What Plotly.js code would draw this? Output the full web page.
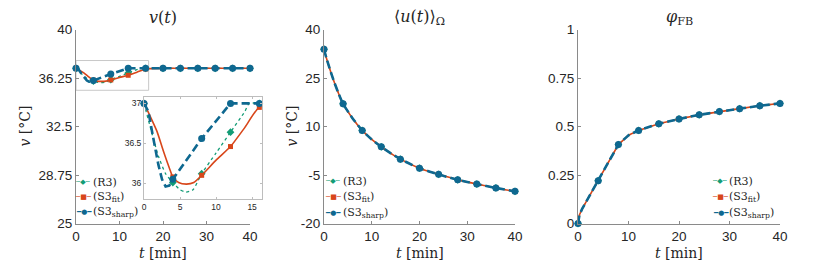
<!DOCTYPE html>
<html><head><meta charset="utf-8">
<script src="https://cdn.plot.ly/plotly-3.0.1.min.js"></script>
<style>html,body{margin:0;padding:0;background:#fff}#chart{width:821px;height:267px}</style>
</head><body><div id="chart"></div>
<script>
// ---------- data ----------
const tMarks = [0, 4, 8, 12, 16, 20, 24, 28, 32, 36, 40];
// v(t): markers
const vR3Marks    = [37, 36.01, 36.12, 36.64, 37.0, 37, 37, 37, 37, 37, 37];
const vFitMarks   = [37, 36.08, 36.10, 36.46, 36.95, 37, 37, 37, 37, 37, 37];
const vSharpMarks = [37, 36.05, 36.56, 37.0, 37.0, 37, 37, 37, 37, 37, 37];
// v(t): continuous curves
const tR3Curve = [0, 1, 2, 3, 4, 5, 5.8, 6.8, 8, 10, 12, 14, 14.6, 16, 20, 24, 28, 32, 36, 40];
const vR3Curve = [37, 36.66, 36.34, 36.12, 36.01, 35.92, 35.89, 35.92, 36.12, 36.38, 36.64, 36.9, 37.0, 37.0, 37, 37, 37, 37, 37, 37];
const tFitCurve = [0, 0.8, 1.8, 2.7, 3.6, 4, 4.8, 5.9, 6.9, 8, 10, 12, 14, 16, 20, 24, 28, 32, 36, 40];
const vFitCurve = [37, 36.85, 36.65, 36.40, 36.17, 36.08, 36.01, 35.99, 36.01, 36.10, 36.29, 36.46, 36.70, 36.95, 37, 37, 37, 37, 37, 37];
const tSharpCurve = [0, 0.6, 1.3, 2, 2.5, 3, 3.5, 4, 8, 12, 16, 20, 24, 28, 32, 36, 40];
const vSharpCurve = [37, 36.9, 36.56, 36.23, 36.05, 35.96, 35.97, 36.05, 36.56, 37.0, 37.0, 37, 37, 37, 37, 37, 37];
// <u(t)>: markers and curve
const uMarks = [33.9, 17.0, 8.8, 3.7, -0.1, -2.9, -4.8, -6.5, -7.8, -9.0, -10.06];
const tUCurve = [0, 0.5, 1, 2, 3, 4, 6, 8, 10, 12, 14, 16, 20, 24, 28, 32, 36, 40];
const uCurve  = [33.9, 31.2, 28.8, 24.3, 20.4, 17.0, 12.5, 8.8, 6.0, 3.7, 1.7, -0.1, -2.9, -4.8, -6.5, -7.8, -9.0, -10.06];
// phi_FB: markers and curve
const phiMarks = [0, 0.221, 0.407, 0.48, 0.514, 0.539, 0.56, 0.577, 0.592, 0.607, 0.619];
const tPhiCurve = [0, 0.3, 0.85, 2, 4, 6, 8, 10, 12, 16, 20, 24, 28, 32, 36, 40];
const phiCurve  = [0, 0.045, 0.077, 0.13, 0.221, 0.31, 0.407, 0.455, 0.48, 0.514, 0.539, 0.56, 0.577, 0.592, 0.607, 0.619];
// ticks & labels
const vTickVals = [25, 28.75, 32.5, 36.25, 40];
const uTickVals = [-20, -5, 10, 25, 40];
const uTickText = ['-20', '-5', '10', '25', '40'];
const phiTickVals = [0, 0.25, 0.5, 0.75, 1];
const insetTickVals = [36, 36.5, 37];
const seriesNames = ['(R3)', '(S3<sub>fit</sub>)', '(S3<sub>sharp</sub>)'];
const zoomBoxT = [0, 16.7];
const zoomBoxV = [35.3, 37.6];

// ---------- styles ----------
const W = 821, H = 267;
const px = x => x / W, py = y => 1 - y / H;
const cG = '#139c76', cR = '#d8461a', cB = '#0e6890';
const styles = [
  {color: cG, line: {color: cG, width: 1.3, dash: 'dot'}, marker: {symbol: 'diamond', size: 6, color: cG}},
  {color: cR, line: {color: cR, width: 1.6, dash: 'solid'}, marker: {symbol: 'square', size: 5, color: cR}},
  {color: cB, line: {color: cB, width: 2.6, dash: '8px,4px'}, marker: {symbol: 'circle', size: 7, color: cB}}
];

const traces = [];
function addSeries(xa, ya, tc, yc, tm, ym, s, tmax, shape) {
  let TM = tm, YM = ym;
  if (tmax !== undefined) { TM = tm.filter(t => t <= tmax); YM = ym.slice(0, TM.length); }
  traces.push({x: tc, y: yc, xaxis: xa, yaxis: ya, mode: 'lines', line: Object.assign({shape: shape || 'linear', smoothing: 0.6}, s.line), hoverinfo: 'skip', showlegend: false});
  traces.push({x: TM, y: YM, xaxis: xa, yaxis: ya, mode: 'markers', marker: s.marker, cliponaxis: false, showlegend: false});
}
addSeries('x', 'y', tR3Curve, vR3Curve, tMarks, vR3Marks, styles[0], undefined, 'spline');
addSeries('x', 'y', tFitCurve, vFitCurve, tMarks, vFitMarks, styles[1], undefined, 'spline');
addSeries('x', 'y', tSharpCurve, vSharpCurve, tMarks, vSharpMarks, styles[2], undefined, 'linear');
addSeries('x4', 'y4', tR3Curve, vR3Curve, tMarks, vR3Marks, styles[0], 16, 'spline');
addSeries('x4', 'y4', tFitCurve, vFitCurve, tMarks, vFitMarks, styles[1], 16, 'spline');
addSeries('x4', 'y4', tSharpCurve, vSharpCurve, tMarks, vSharpMarks, styles[2], 16, 'linear');
for (const s of styles) addSeries('x2', 'y2', tUCurve, uCurve, tMarks, uMarks, s, undefined, 'spline');
for (const s of styles) addSeries('x3', 'y3', tPhiCurve, phiCurve, tMarks, phiMarks, s, undefined, 'linear');

const axCol = '#8a8a8a';
const tickFont = {family: 'Liberation Sans, Arial, sans-serif', size: 13.5, color: '#262626'};
function xAx(d0, d1, anchor) {
  return {domain: [px(d0), px(d1)], anchor: anchor, range: [0, 40], tickvals: [0, 10, 20, 30, 40],
    showline: true, linecolor: axCol, linewidth: 1, ticks: 'inside', ticklen: 3, tickcolor: axCol,
    showgrid: false, zeroline: false, tickfont: tickFont, fixedrange: true};
}
function yAx(range, tv, tt, anchor) {
  const a = {domain: [py(223.5), py(29.5)], anchor: anchor, range: range, tickvals: tv,
    showline: true, linecolor: axCol, linewidth: 1, ticks: 'inside', ticklen: 3, tickcolor: axCol,
    showgrid: false, zeroline: false, tickfont: tickFont, fixedrange: true};
  if (tt) a.ticktext = tt;
  return a;
}
const insetCol = '#bdbdbd';
const insetFont = {family: 'Liberation Sans, Arial, sans-serif', size: 8.5, color: '#262626'};

const serif = 'DejaVu Serif';
const ann = [];
function txt(x, y, text, size, opts) {
  ann.push(Object.assign({xref: 'paper', yref: 'paper', x: px(x), y: py(y), text: text, showarrow: false,
    font: {family: serif, size: size, color: '#262626'}, xanchor: 'center', yanchor: 'middle'}, opts || {}));
}
txt(163, 17, '<i>v</i>(<i>t</i>)', 16);
txt(419.5, 17, '⟨<i>u</i>(<i>t</i>)⟩<sub>Ω</sub>', 16);
txt(679, 17, '<i>φ</i><sub>FB</sub>', 16);
txt(163, 253, '<i>t</i> [min]', 14);
txt(419.5, 253, '<i>t</i> [min]', 14);
txt(679, 253, '<i>t</i> [min]', 14);
txt(25, 126.5, '<i>v</i> [°C]', 14, {textangle: -90});
txt(292, 126.5, '<i>v</i> [°C]', 14, {textangle: -90});
const keyGlyphs = ['┄◆┄', '─■─', '━●━'];
const keyCols = [cG, cR, cB];
function legend(kx, tx, ys) {
  for (let i = 0; i < 3; i++) {
    ann.push({xref: 'paper', yref: 'paper', x: px(kx), y: py(ys[i]), text: keyGlyphs[i], showarrow: false,
      font: {family: 'DejaVu Sans', size: 7, color: keyCols[i]}, xanchor: 'center', yanchor: 'middle'});
    txt(tx, ys[i], seriesNames[i], 11, {xanchor: 'left'});
  }
}
legend(83.5, 91, [182, 197, 212]);
legend(333, 340.5, [181, 196.7, 212.7]);
legend(720.5, 726.5, [181, 196.7, 212.7]);

const layout = {
  width: W, height: H, autosize: false, margin: {l: 0, r: 0, t: 0, b: 0},
  paper_bgcolor: '#fff', plot_bgcolor: '#fff', showlegend: false,
  xaxis: xAx(76, 250, 'y'), yaxis: yAx([25, 40], vTickVals, null, 'x'),
  xaxis2: xAx(324, 515, 'y2'), yaxis2: yAx([-20, 40], uTickVals, uTickText, 'x2'),
  xaxis3: xAx(578, 780, 'y3'), yaxis3: yAx([0, 1], phiTickVals, null, 'x3'),
  xaxis4: {domain: [px(144), px(261.5)], anchor: 'y4', range: [0, 16.3], tickvals: [0, 5, 10, 15],
    showline: true, mirror: 'ticks', linecolor: insetCol, ticks: 'inside', ticklen: 2, tickcolor: insetCol,
    showgrid: false, zeroline: false, tickfont: insetFont, fixedrange: true},
  yaxis4: {domain: [py(198.5), py(97)], anchor: 'x4', range: [35.81, 37.08], tickvals: insetTickVals,
    showline: true, mirror: 'ticks', linecolor: insetCol, ticks: 'inside', ticklen: 2, tickcolor: insetCol,
    showgrid: false, zeroline: false, tickfont: insetFont, fixedrange: true},
  shapes: [{type: 'rect', xref: 'x', yref: 'y', x0: zoomBoxT[0], x1: zoomBoxT[1], y0: zoomBoxV[0], y1: zoomBoxV[1],
    line: {color: '#c8c8c8', width: 1}, layer: 'below'}],
  annotations: ann
};
Plotly.newPlot('chart', traces, layout, {staticPlot: true, displayModeBar: false});
</script></body></html>
